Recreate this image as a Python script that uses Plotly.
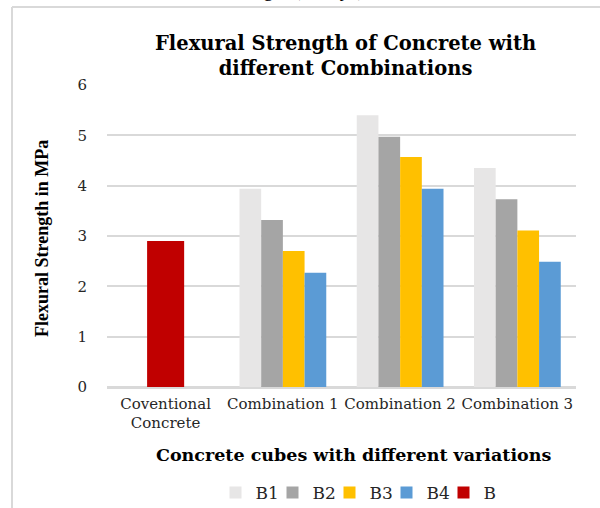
import plotly.graph_objects as go

# Categories on the x axis
categories = ["Coventional<br>Concrete", "Combination 1", "Combination 2", "Combination 3"]
combos = categories[1:]

# Flexural strength (MPa) per mix variation
b1 = [3.94, 5.40, 4.35]
b2 = [3.32, 4.97, 3.73]
b3 = [2.70, 4.57, 3.11]
b4 = [2.27, 3.94, 2.49]
b_conventional = [2.90]

series = [
    ("B1", b1, "#e7e6e6"),
    ("B2", b2, "#a5a5a5"),
    ("B3", b3, "#ffc000"),
    ("B4", b4, "#5b9bd5"),
]

W, H = 600, 508
L, R, T, B = 107, 24, 85, 121
PW, PH = W - L - R, H - T - B


def px_x(px):
    return (px - L) / PW


def px_y(py):
    return (H - B - py) / PH


SERIF = "Liberation Serif, Times New Roman, serif"
WIDE = "DejaVu Serif, serif"

fig = go.Figure()

bar_w = 0.185
for i, (name, vals, color) in enumerate(series):
    fig.add_trace(go.Bar(
        x=combos, y=vals, name=name,
        marker=dict(color=color, line=dict(width=0)),
        width=bar_w, offset=-2 * bar_w + i * bar_w,
    ))

fig.add_trace(go.Bar(
    x=categories[:1], y=b_conventional, name="B",
    marker=dict(color="#c00000", line=dict(width=0)),
    width=0.316, offset=-0.158,
))

fig.update_layout(
    width=W, height=H,
    margin=dict(l=L, r=R, t=T, b=B, pad=0, autoexpand=False),
    paper_bgcolor="white", plot_bgcolor="white",
    barmode="overlay",
    showlegend=True,
    legend=dict(
        orientation="h", xref="container", yref="container",
        x=358 / W, xanchor="center",
        y=1 - 493 / H, yanchor="middle",
        font=dict(family=WIDE, size=17, color="#262626"),
        itemwidth=30, entrywidth=12, traceorder="normal",
        bgcolor="rgba(0,0,0,0)",
    ),
    font=dict(family=SERIF, color="#262626"),
)

fig.update_xaxes(
    type="category", categoryorder="array", categoryarray=categories,
    range=[-0.5, 3.5], automargin=False,
    showgrid=False, showline=True, linecolor="#d9d9d9", linewidth=1.5,
    ticks="", tickfont=dict(family=WIDE, size=15, color="#262626"),
    ticklabelstandoff=2,
)
fig.update_yaxes(
    range=[0, 6], dtick=1, tick0=0, automargin=False,
    showgrid=True, gridcolor="#d9d9d9", gridwidth=1.5,
    zeroline=True, zerolinecolor="#d9d9d9", zerolinewidth=1.5,
    showline=False, ticks="",
    tickfont=dict(family=WIDE, size=15, color="#262626"),
    ticklabelstandoff=19,
)

# Chart title
fig.add_annotation(
    text="<b>Flexural Strength of Concrete with<br>different Combinations</b>",
    xref="paper", yref="paper", x=px_x(345), y=px_y(56),
    xanchor="center", yanchor="middle", showarrow=False,
    font=dict(family=WIDE, size=19.5, color="black"),
)
# Axis titles
fig.add_annotation(
    text="<b>Flexural Strength in MPa</b>",
    xref="paper", yref="paper", x=px_x(42), y=px_y(239),
    xanchor="center", yanchor="middle", showarrow=False, textangle=-90,
    font=dict(family=SERIF, size=18, color="black"),
)
fig.add_annotation(
    text="<b>Concrete cubes with different variations</b>",
    xref="paper", yref="paper", x=px_x(353), y=px_y(455),
    xanchor="center", yanchor="middle", showarrow=False,
    font=dict(family=WIDE, size=17.5, color="black"),
)
# Caption line above the chart frame
fig.add_annotation(
    text="Strength (in days)",
    xref="paper", yref="paper", x=px_x(366), y=px_y(3),
    xanchor="right", yanchor="bottom", showarrow=False,
    font=dict(family=SERIF, size=20, color="black"),
)

# Chart frame (left and top edges)
frame = dict(type="line", xref="paper", yref="paper",
             line=dict(color="#d9d9d9", width=2), layer="below")
fig.add_shape(**frame, x0=px_x(12), y0=px_y(7), x1=px_x(600), y1=px_y(7))
fig.add_shape(**frame, x0=px_x(12), y0=px_y(7), x1=px_x(12), y1=px_y(508))

fig.write_html("out.html", config={"displayModeBar": False})
